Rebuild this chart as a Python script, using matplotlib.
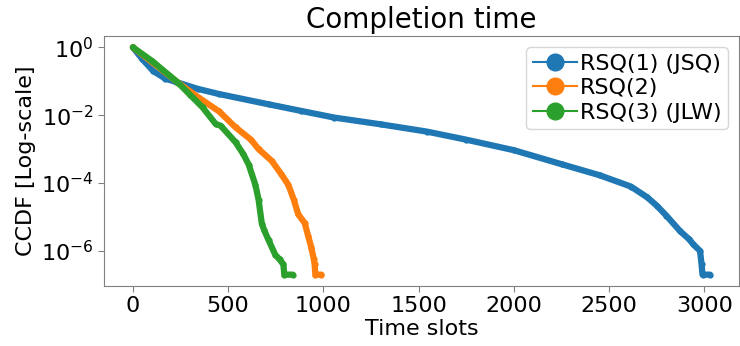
import numpy as np
import matplotlib.pyplot as plt
from matplotlib.lines import Line2D

# CCDF of completion time (x in time slots)
labels = ['RSQ(1) (JSQ)', 'RSQ(2)', 'RSQ(3) (JLW)']
colors = ['#1f77b4', '#ff7f0e', '#2ca02c']

t_rsq1 = [0, 50, 107, 170, 228, 340, 453, 712, 880, 1058, 1300, 1542, 1750,
          2000, 2250, 2450, 2614, 2700, 2752, 2800, 2873, 2920, 2942, 2977, 2985,
          2990, 3030]
p_rsq1 = [1.0, 0.45, 0.20, 0.12, 0.095, 0.060, 0.042, 0.021, 0.0135, 8.5e-3,
          5.4e-3, 3.3e-3, 1.9e-3, 9.3e-4, 3.6e-4, 1.7e-4, 7.9e-5,
          3.8e-5, 2.1e-5, 1.1e-5, 3.8e-6, 2.2e-6, 1.55e-6, 1.0e-6, 4.0e-7,
          2.0e-7, 2.0e-7]

t_rsq2 = [0, 100, 237, 349, 453, 539, 620, 660, 729, 780, 816, 845, 868, 902,
          920, 937, 950, 954, 958, 990]
p_rsq2 = [1.0, 0.37, 0.091, 0.032, 0.0129, 4.4e-3, 1.9e-3, 1.0e-3, 4.5e-4,
          1.8e-4, 8.9e-5, 3.2e-5, 1.2e-5, 6.6e-6, 2.8e-6, 1.23e-6, 5.6e-7,
          4.0e-7, 2.0e-7, 2.0e-7]

t_rsq3 = [0, 100, 237, 300, 366, 435, 461, 539, 580, 608, 643, 660, 677, 690,
          712, 747, 770, 790, 795, 840]
p_rsq3 = [1.0, 0.40, 0.091, 0.040, 0.017, 5.5e-3, 4.9e-3, 1.6e-3, 7.1e-4,
          3.5e-4, 8.9e-5, 3.2e-5, 6.3e-6, 4.0e-6, 2.1e-6, 7.8e-7, 5.6e-7,
          4.0e-7, 2.0e-7, 2.0e-7]

series = [(t_rsq1, p_rsq1), (t_rsq2, p_rsq2), (t_rsq3, p_rsq3)]

plt.rcParams['font.family'] = 'DejaVu Sans'
fig = plt.figure(figsize=(7.4, 3.46), dpi=100)
ax = fig.add_axes([104/740, 60/346, 635/740, 250/346])

for (t, p), c in zip(series, colors):
    ax.plot(t, p, color=c, lw=4.5, marker='o', ms=3.5, mew=1,
            solid_capstyle='round', solid_joinstyle='round')

ax.set_yscale('log')
ax.set_xticks([0, 500, 1000, 1500, 2000, 2500, 3000])
ax.set_yticks([1, 1e-2, 1e-4, 1e-6])
ax.tick_params(axis='both', labelsize=16, colors='#808080', labelcolor='black',
               length=4)
ax.tick_params(axis='y', which='minor', colors='#b0b0b0', length=2)
for s in ax.spines.values():
    s.set_color('#808080')

ax.set_title('Completion time', fontsize=20)
ax.set_xlabel('Time slots', fontsize=16, labelpad=2)
ax.set_ylabel('CCDF [Log-scale]', fontsize=16)

handles = [Line2D([], [], color=c, lw=1.5, marker='o', ms=12) for c in colors]
ax.legend(handles, labels, loc='upper right', fontsize=16, handlelength=2,
          handletextpad=0.1, borderpad=0.3, labelspacing=0.2,
          borderaxespad=0.5)

fig.savefig('out.png', dpi=100)
